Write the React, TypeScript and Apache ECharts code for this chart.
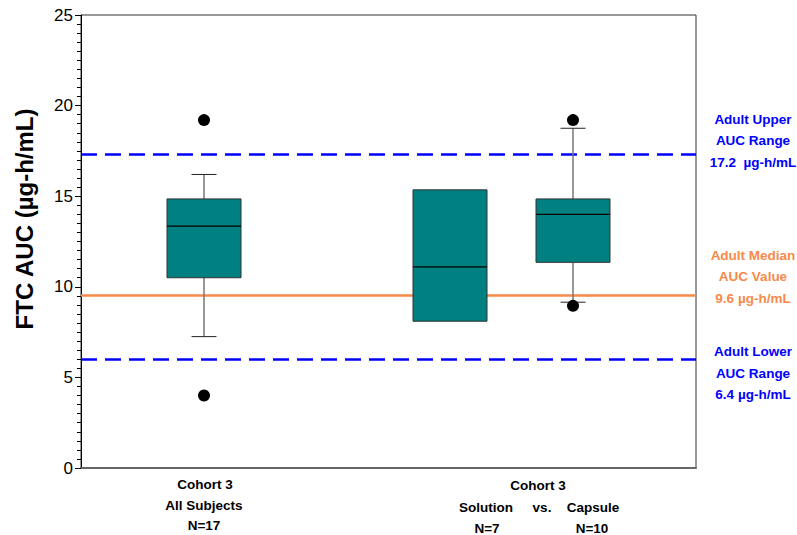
import React, { useEffect, useRef } from "react";
import * as echarts from "echarts";

// Box positions on the x value axis (0..5)
const boxPositions = [1, 3, 4];
// [min, Q1, median, Q3, max]
const boxStats = [
  [7.25, 10.5, 13.35, 14.85, 16.2],
  [8.1, 8.1, 11.1, 15.35, 15.35],
  [9.15, 11.35, 14.0, 14.85, 18.75],
];
// outliers [x, value]
const outliers = [
  [1, 19.2],
  [1, 4.0],
  [4, 19.2],
  [4, 8.95],
];
const upperRange = 17.3;
const medianValue = 9.55;
const lowerRange = 6.0;

const yTicks = { min: 0, max: 25, interval: 5 };

const upperLabel = ["Adult Upper", "AUC Range", "17.2  µg-h/mL"];
const medianLabel = ["Adult Median", "AUC Value", "9.6 µg-h/mL"];
const lowerLabel = ["Adult Lower", "AUC Range", "6.4 µg-h/mL"];

const yTitle = "FTC AUC (µg-h/mL)";

const FONT = "'Liberation Sans', Arial, Helvetica, sans-serif";
const BLUE = "#0000FF";
const ORANGE = "#F7894A";
const TEAL = "#008080";

export default function App() {
  const ref = useRef<HTMLDivElement>(null);
  useEffect(() => {
    if (!ref.current) return;
    const chart = echarts.init(ref.current, null, { renderer: "svg" });
    const boxData = boxPositions.map((x, i) => [x, ...boxStats[i]]);

    const textStyleBase = { fontFamily: FONT, fontWeight: "bold", fontSize: 13.5 };
    const mkLines = (lines: string[], cx: number, cy: number, color: string) =>
      lines.map((t, i) => ({
        type: "text",
        x: cx,
        y: cy + (i - 1) * 21.7,
        style: { ...textStyleBase, text: t, fill: color, align: "center", verticalAlign: "middle" },
      }));
    const lbl = (t: string, x: number, y: number) => ({
      type: "text",
      x,
      y,
      style: { ...textStyleBase, text: t, fill: "#000", align: "center", verticalAlign: "middle" },
    });

    chart.setOption({
      animation: false,
      backgroundColor: "#fff",
      grid: {
        left: 81,
        right: 101,
        top: 15,
        bottom: 67,
        show: true,
        borderColor: "#333",
        borderWidth: 1,
      },
      xAxis: {
        type: "value",
        min: 0,
        max: 5,
        axisLine: { show: true, lineStyle: { color: "#666", width: 2 } },
        axisTick: { show: false },
        axisLabel: { show: false },
        splitLine: { show: false },
      },
      yAxis: {
        type: "value",
        min: yTicks.min,
        max: yTicks.max,
        interval: yTicks.interval,
        axisLine: { show: true, lineStyle: { color: "#000", width: 1 } },
        axisTick: { show: true, length: 6, lineStyle: { color: "#000" } },
        minorTick: { show: true, splitNumber: 10, length: 4, lineStyle: { color: "#000" } },
        axisLabel: { color: "#000", fontSize: 17, fontFamily: FONT, margin: 8 },
        splitLine: { show: false },
        minorSplitLine: { show: false },
      },
      series: [
        {
          type: "custom",
          data: boxData,
          encode: { x: 0, y: [1, 2, 3, 4, 5] },
          renderItem: (params: any, api: any) => {
            const x = api.value(0);
            const mn = api.value(1), q1 = api.value(2), md = api.value(3), q3 = api.value(4), mx = api.value(5);
            const pMin = api.coord([x, mn]);
            const pQ1 = api.coord([x, q1]);
            const pMd = api.coord([x, md]);
            const pQ3 = api.coord([x, q3]);
            const pMx = api.coord([x, mx]);
            const cx = pMd[0];
            const hw = 37;
            const cap = 12.5;
            const children: any[] = [];
            if (mx > q3) {
              children.push({ type: "line", shape: { x1: cx, y1: pQ3[1], x2: cx, y2: pMx[1] }, style: { stroke: "#777", lineWidth: 1.5 } });
              children.push({ type: "line", shape: { x1: cx - cap, y1: pMx[1], x2: cx + cap, y2: pMx[1] }, style: { stroke: "#222", lineWidth: 1 } });
            }
            if (mn < q1) {
              children.push({ type: "line", shape: { x1: cx, y1: pQ1[1], x2: cx, y2: pMin[1] }, style: { stroke: "#777", lineWidth: 1.5 } });
              children.push({ type: "line", shape: { x1: cx - cap, y1: pMin[1], x2: cx + cap, y2: pMin[1] }, style: { stroke: "#222", lineWidth: 1 } });
            }
            children.push({
              type: "rect",
              shape: { x: cx - hw, y: pQ3[1], width: hw * 2, height: pQ1[1] - pQ3[1] },
              style: { fill: TEAL, stroke: "#333", lineWidth: 1 },
            });
            children.push({ type: "line", shape: { x1: cx - hw, y1: pMd[1], x2: cx + hw, y2: pMd[1] }, style: { stroke: "#000", lineWidth: 1.2 } });
            return { type: "group", children };
          },
          z: 3,
        },
        {
          type: "scatter",
          data: outliers,
          symbol: "circle",
          symbolSize: 12,
          itemStyle: { color: "#000", opacity: 1 },
          z: 4,
          markLine: {
            silent: true,
            symbol: "none",
            label: { show: false },
            data: [
              { yAxis: upperRange, lineStyle: { color: BLUE, width: 2.5, type: [16, 8] } },
              { yAxis: medianValue, lineStyle: { color: ORANGE, width: 2.5, type: "solid" } },
              { yAxis: lowerRange, lineStyle: { color: BLUE, width: 2.5, type: [16, 8] } },
            ],
            z: 2,
          },
        },
      ],
      graphic: [
        {
          type: "text",
          x: 24,
          y: 219,
          rotation: Math.PI / 2,
          style: {
            text: yTitle,
            fill: "#000",
            fontFamily: FONT,
            fontWeight: "bold",
            fontSize: 24,
            align: "center",
            verticalAlign: "middle",
          },
        },
        ...mkLines(upperLabel, 753, 140.7, BLUE),
        ...mkLines(medianLabel, 753, 276.7, ORANGE),
        ...mkLines(lowerLabel, 753, 373, BLUE),
        lbl("Cohort 3", 205, 484),
        lbl("All Subjects", 204, 505),
        lbl("N=17", 204, 525),
        lbl("Cohort 3", 538, 485.5),
        lbl("Solution", 486, 507),
        lbl("vs.", 542, 507),
        lbl("Capsule", 593, 507),
        lbl("N=7", 487, 528.5),
        lbl("N=10", 592, 528.5),
      ],
    });
    return () => chart.dispose();
  }, []);
  return <div ref={ref} style={{ position: "fixed", left: 0, top: 0, width: 797, height: 535 }} />;
}
